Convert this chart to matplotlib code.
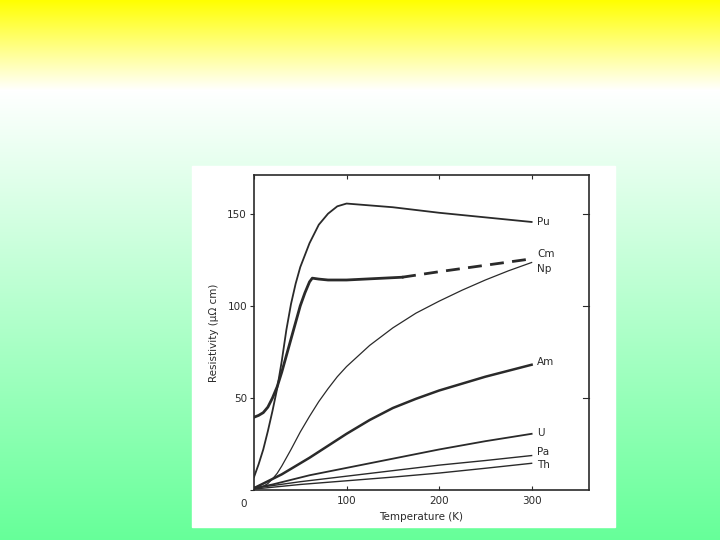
import matplotlib
matplotlib.use("Agg")
import matplotlib.pyplot as plt
import numpy as np

# resistivity (micro-ohm cm) vs temperature (K)
pu_t = [0, 5, 10, 15, 20, 25, 30, 35, 40, 45, 50, 60, 70, 80, 90, 100, 150, 200, 250, 300]
pu_r = [7, 14, 22, 32, 43, 55, 70, 87, 101, 112, 121, 134, 144, 150, 154, 155.5, 153.5, 150.5, 148, 145.5]

cm_t = [0, 5, 10, 15, 20, 25, 30, 35, 40, 45, 50, 55, 60, 63, 70, 80, 100, 120, 140, 160]
cm_r = [39.5, 40.5, 42, 45, 50, 56, 64, 73, 82, 91, 100, 107, 113, 115, 114.5, 114, 114, 114.5, 115, 115.5]
cm_dash_t = [160, 200, 250, 300]
cm_dash_r = [115.5, 118.5, 122, 125.5]

np_t = [5, 10, 15, 20, 25, 30, 40, 50, 60, 70, 80, 90, 100, 125, 150, 175, 200, 225, 250, 275, 300]
np_r = [1, 2, 3.5, 6, 9, 13, 22, 31.5, 40, 48, 55, 61.5, 67, 78.5, 88, 96, 102.5, 108.5, 114, 119, 123.5]

am_t = [0, 10, 20, 30, 40, 50, 60, 80, 100, 125, 150, 175, 200, 250, 300]
am_r = [1, 3.5, 6, 8.5, 11.5, 14.5, 17.5, 24, 30.5, 38, 44.5, 49.5, 54, 61.5, 68]

u_t = [0, 20, 40, 60, 80, 100, 125, 150, 175, 200, 250, 300]
u_r = [1, 3, 5.5, 8, 10, 12, 14.5, 17, 19.5, 22, 26.5, 30.5]

pa_t = [0, 50, 100, 150, 200, 250, 300]
pa_r = [1, 4.5, 7.5, 10.5, 13.5, 16, 18.7]

th_t = [0, 50, 100, 150, 200, 250, 300]
th_r = [0.5, 3, 5, 7, 9.2, 11.8, 14.5]

labels = ["Pu", "Cm", "Np", "Am", "U", "Pa", "Th"]
label_y = [145.5, 128, 120, 69.5, 31, 20.6, 13.4]

ink = "#2a2a2a"

fig = plt.figure(figsize=(7.2, 5.4), dpi=100)

# slide background: yellow -> white -> green
bg = fig.add_axes([0, 0, 1, 1])
rows = np.arange(540)
col = np.ones((540, 1, 3))
top = rows < 90
col[top, 0, 2] = rows[top] / 90.0
f2 = (rows[~top] - 90) / 450.0
col[~top, 0, 0] = 1 - f2 * (153 / 255)
col[~top, 0, 2] = 1 - f2 * (102 / 255)
bg.imshow(col, aspect="auto", extent=[0, 720, 540, 0])
bg.add_patch(plt.Rectangle((192, 166), 423, 361, color="white"))
bg.set_xlim(0, 720)
bg.set_ylim(540, 0)
bg.axis("off")

ax = fig.add_axes([254 / 720, 50 / 540, 335 / 720, 315 / 540])
ax.set_facecolor("white")

ax.plot(pu_t, pu_r, color=ink, lw=1.3)
ax.plot(cm_t, cm_r, color=ink, lw=2.0)
ax.plot(cm_dash_t, cm_dash_r, color=ink, lw=2.0, ls=(0, (5, 3)))
ax.plot(np_t, np_r, color=ink, lw=0.9)
ax.plot(am_t, am_r, color=ink, lw=1.8)
ax.plot(u_t, u_r, color=ink, lw=1.3)
ax.plot(pa_t, pa_r, color=ink, lw=1.0)
ax.plot(th_t, th_r, color=ink, lw=1.0)

for name, y in zip(labels, label_y):
    ax.text(306, y, name, fontsize=7.5, color=ink, va="center", ha="left")

ax.set_xlim(0, 362)
ax.set_ylim(0, 171)
ax.set_xticks([0, 100, 200, 300])
ax.set_xticklabels(["", "100", "200", "300"])
ax.set_yticks([0, 50, 100, 150])
ax.set_yticklabels(["", "50", "100", "150"])
ax.tick_params(axis="x", direction="in", top=True, length=3, width=0.8,
               labelsize=7.5, colors=ink, pad=4)
ax.tick_params(axis="y", direction="out", right=False, length=3, width=0.8,
               labelsize=7.5, colors=ink, pad=2)
ax.text(-0.03, -0.03, "0", transform=ax.transAxes, fontsize=7.5, color=ink,
        ha="center", va="top")
for t in [50, 100, 150]:
    ax.plot([362, 356], [t, t], color=ink, lw=0.8, clip_on=False)

for s in ax.spines.values():
    s.set_color(ink)
    s.set_linewidth(1.2)

ax.set_xlabel("Temperature (K)", fontsize=7.5, color=ink, labelpad=5)
ax.set_ylabel("Resistivity (μΩ cm)", fontsize=7.5, color=ink, labelpad=6)

fig.savefig("out.png", dpi=100)
